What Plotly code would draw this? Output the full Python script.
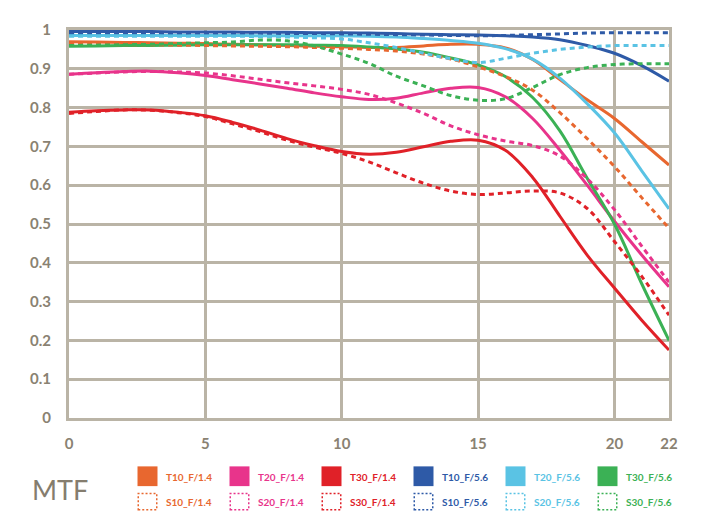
import plotly.graph_objects as go

# ---------------- data ----------------
x_vals = list(range(0, 23))

t10_f14 = [0.970, 0.969, 0.968, 0.967, 0.966, 0.965, 0.963, 0.962, 0.960, 0.958, 0.957, 0.955, 0.955,
           0.959, 0.963, 0.963, 0.954, 0.924, 0.872, 0.820, 0.772, 0.712, 0.652]
t20_f14 = [0.886, 0.890, 0.893, 0.894, 0.890, 0.883, 0.872, 0.861, 0.850, 0.838, 0.828, 0.821, 0.824,
           0.838, 0.850, 0.852, 0.828, 0.772, 0.690, 0.600, 0.507, 0.420, 0.338]
t30_f14 = [0.788, 0.792, 0.794, 0.794, 0.788, 0.779, 0.762, 0.742, 0.720, 0.702, 0.687, 0.680, 0.685,
           0.699, 0.713, 0.716, 0.690, 0.620, 0.520, 0.420, 0.335, 0.252, 0.175]
t10_f56 = [0.996, 0.996, 0.996, 0.996, 0.995, 0.995, 0.995, 0.994, 0.994, 0.993, 0.993, 0.992, 0.991,
           0.989, 0.988, 0.987, 0.985, 0.982, 0.975, 0.960, 0.940, 0.908, 0.868]
t20_f56 = [0.986, 0.986, 0.986, 0.986, 0.986, 0.986, 0.986, 0.985, 0.985, 0.985, 0.985, 0.984, 0.982,
           0.978, 0.973, 0.966, 0.952, 0.925, 0.876, 0.810, 0.735, 0.637, 0.539]
t30_f56 = [0.958, 0.959, 0.960, 0.960, 0.961, 0.962, 0.962, 0.962, 0.962, 0.961, 0.960, 0.956, 0.951,
           0.943, 0.928, 0.910, 0.880, 0.826, 0.740, 0.618, 0.500, 0.346, 0.200]

s10_f14 = [0.963, 0.963, 0.962, 0.962, 0.961, 0.960, 0.959, 0.958, 0.957, 0.955, 0.953, 0.950, 0.946,
           0.938, 0.925, 0.905, 0.880, 0.845, 0.787, 0.720, 0.648, 0.568, 0.489]
s20_f14 = [0.886, 0.889, 0.892, 0.893, 0.892, 0.889, 0.882, 0.873, 0.864, 0.856, 0.847, 0.834, 0.812,
           0.785, 0.753, 0.730, 0.714, 0.702, 0.675, 0.617, 0.537, 0.443, 0.350]
s30_f14 = [0.785, 0.790, 0.794, 0.793, 0.787, 0.777, 0.758, 0.738, 0.716, 0.698, 0.682, 0.660, 0.632,
           0.605, 0.585, 0.576, 0.580, 0.585, 0.580, 0.540, 0.455, 0.365, 0.265]
s10_f56 = [0.993, 0.993, 0.993, 0.993, 0.992, 0.992, 0.992, 0.992, 0.991, 0.991, 0.990, 0.989, 0.988,
           0.987, 0.986, 0.985, 0.986, 0.988, 0.990, 0.992, 0.993, 0.993, 0.993]
s20_f56 = [0.984, 0.984, 0.984, 0.984, 0.984, 0.984, 0.984, 0.983, 0.982, 0.980, 0.977, 0.967, 0.955,
           0.940, 0.926, 0.916, 0.927, 0.940, 0.950, 0.956, 0.960, 0.960, 0.960]
s30_f56 = [0.960, 0.961, 0.962, 0.963, 0.965, 0.967, 0.969, 0.974, 0.972, 0.959, 0.938, 0.914, 0.881,
           0.856, 0.831, 0.819, 0.823, 0.852, 0.885, 0.903, 0.911, 0.913, 0.913]

series_names = ["T10_F/1.4", "T20_F/1.4", "T30_F/1.4", "T10_F/5.6", "T20_F/5.6", "T30_F/5.6",
                "S10_F/1.4", "S20_F/1.4", "S30_F/1.4", "S10_F/5.6", "S20_F/5.6", "S30_F/5.6"]
series_values = [t10_f14, t20_f14, t30_f14, t10_f56, t20_f56, t30_f56,
                 s10_f14, s20_f14, s30_f14, s10_f56, s20_f56, s30_f56]

x_tick_vals = [0, 5, 10, 15, 20, 22]
y_tick_vals = [0, 0.1, 0.2, 0.3, 0.4, 0.5, 0.6, 0.7, 0.8, 0.9, 1]
y_tick_text = ["0", "0.1", "0.2", "0.3", "0.4", "0.5", "0.6", "0.7", "0.8", "0.9", "1"]

# ---------------- style ----------------
palette = ["#e8672f", "#e8348b", "#e02128", "#2e5aa7", "#5ac3e4", "#3bb155"]
grid_col = "#bab4a6"
tick_col = "#8a8272"

OFF = 8  # page body margin
W, H = 712 - OFF, 512 - OFF
# target screen-pixel positions of the plot area
SL, SR, ST, SB = 69, 669, 25, 418
L, R, T, B = SL - OFF, SR - OFF, ST - OFF, SB - OFF

fig = go.Figure()
for i, (name, vals) in enumerate(zip(series_names, series_values)):
    col = palette[i % 6]
    dotted = i >= 6
    fig.add_trace(go.Scatter(
        x=x_vals, y=vals, name=name, mode="lines",
        line=dict(color=col, width=3, shape="spline", smoothing=1.0,
                  dash="5px,4px" if dotted else "solid"),
        showlegend=False, hoverinfo="skip"))

axis_common = dict(showgrid=True, gridcolor=grid_col, gridwidth=3,
                   showline=True, linecolor=grid_col, linewidth=3, mirror=True,
                   zeroline=False, ticks="", layer="below traces",
                   tickfont=dict(family="Lato", size=15, color=tick_col, weight="bold"))

fig.update_layout(
    width=W, height=H,
    margin=dict(l=L, r=W - R, t=T, b=H - B, pad=0),
    paper_bgcolor="white", plot_bgcolor="white",
    xaxis=dict(range=[0, 22], tickmode="array", tickvals=x_tick_vals,
               ticktext=[str(v) for v in x_tick_vals], ticklabelstandoff=10, **axis_common),
    yaxis=dict(range=[0, 1], tickmode="array", tickvals=y_tick_vals,
               ticktext=y_tick_text, ticklabelstandoff=12, **axis_common),
    showlegend=False,
)

# ---------------- custom legend (squares + labels) ----------------
def px_x(p):  # screen pixel -> paper
    return (p - SL) / (SR - SL)

def px_y(p):
    return (SB - p) / (SB - ST)

shapes = []
annotations = []
for i, name in enumerate(series_names):
    col = palette[i % 6]
    row = i // 6
    sx = 137.5 + 92 * (i % 6)
    if row == 0:
        y0p, y1p = 467, 487
        ty = 477.5
        shapes.append(dict(type="rect", xref="paper", yref="paper",
                           x0=px_x(sx), x1=px_x(sx + 20), y0=px_y(y1p), y1=px_y(y0p),
                           fillcolor=col, line=dict(width=0), layer="above"))
    else:
        y0p, y1p = 494.5, 511
        ty = 503.5
        shapes.append(dict(type="rect", xref="paper", yref="paper",
                           x0=px_x(sx + 0.75), x1=px_x(sx + 19.25), y0=px_y(y1p), y1=px_y(y0p),
                           fillcolor="rgba(0,0,0,0)",
                           line=dict(color=col, width=1.5, dash="2px,2px"), layer="above"))
    annotations.append(dict(text=name, xref="paper", yref="paper",
                            x=px_x(sx + 26), y=px_y(ty), xanchor="left", yanchor="middle",
                            showarrow=False,
                            font=dict(family="Lato", size=10, color=col, weight="bold")))

annotations.append(dict(text="MTF", xref="paper", yref="paper",
                        x=px_x(60), y=px_y(490), xanchor="center", yanchor="middle",
                        showarrow=False,
                        font=dict(family="Lato", size=27, color="#857d6e")))

fig.update_layout(shapes=shapes, annotations=annotations)

fig.write_html("out.html")
